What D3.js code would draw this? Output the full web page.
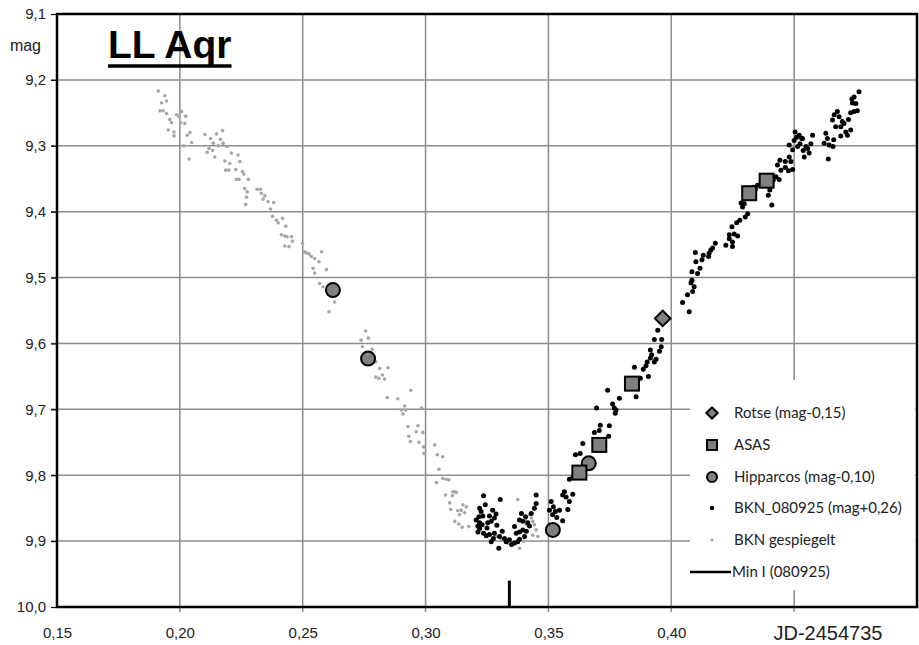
<!DOCTYPE html>
<html><head><meta charset="utf-8">
<script src="https://cdn.jsdelivr.net/npm/d3@7/dist/d3.min.js"></script>
<style>body{margin:0;background:#fff}svg{display:block}</style>
</head><body><svg id="c" width="919" height="645"></svg>
<script>
// ---- data ----
const xTicks = [0.15, 0.20, 0.25, 0.30, 0.35, 0.40];
const xGrid = [0.20, 0.25, 0.30, 0.35, 0.40, 0.45];
const yTicks = [9.1, 9.2, 9.3, 9.4, 9.5, 9.6, 9.7, 9.8, 9.9, 10.0];
const xAxisTitle = "JD-2454735";
const yAxisTitle = "mag";
const chartTitle = "LL Aqr";
const minI = 0.3341;
const legendLabels = ["Rotse (mag-0,15)", "ASAS", "Hipparcos (mag-0,10)", "BKN_080925 (mag+0,26)", "BKN gespiegelt", "Min I (080925)"];

const rotse = [[0.3965, 9.562]];
const asas = [[0.3626, 9.796], [0.3707, 9.754], [0.3840, 9.661], [0.4317, 9.372], [0.4388, 9.353]];
const hipparcos = [[0.2623, 9.519], [0.2766, 9.623], [0.3518, 9.883], [0.3664, 9.782]];

const bkn = [
[0.3236,9.831],[0.3304,9.837],[0.3450,9.830],[0.3220,9.850],[0.3226,9.855],[0.3217,9.863],[0.3233,9.862],[0.3260,9.862],[0.3287,9.859],[0.3280,9.865],[0.3267,9.870],[0.3253,9.872],[0.3220,9.872],[0.3230,9.875],[0.3213,9.877],[0.3220,9.881],[0.3236,9.888],[0.3247,9.892],[0.3260,9.890],[0.3280,9.888],[0.3301,9.893],[0.3321,9.896],[0.3328,9.901],[0.3298,9.911],[0.3267,9.901],[0.3375,9.901],[0.3382,9.897],[0.3369,9.888],[0.3382,9.886],[0.3396,9.883],[0.3396,9.870],[0.3407,9.863],[0.3382,9.868],[0.3416,9.872],[0.3423,9.877],[0.3450,9.843],[0.3443,9.850],[0.3341,9.898],[0.3213,9.886],[0.3250,9.880],[0.3350,9.905],[0.3410,9.885],
[0.3243,9.845],[0.3273,9.853],[0.3290,9.876],[0.3312,9.885],[0.3362,9.878],[0.3390,9.858],[0.3430,9.858],[0.3276,9.896],[0.3362,9.903],[0.3403,9.893],[0.3206,9.868],
[0.3511,9.840],[0.3520,9.848],[0.3504,9.853],[0.3528,9.855],[0.3517,9.860],[0.3534,9.864],[0.3558,9.869],[0.3545,9.853],
[0.3579,9.852],[0.3585,9.840],[0.3599,9.829],[0.3565,9.825],[0.3558,9.830],[0.3572,9.833],
[0.3585,9.806],[0.3599,9.804],[0.3619,9.802],[0.3640,9.794],
[0.3610,9.769],[0.3629,9.767],[0.3640,9.752],[0.3687,9.735],[0.3707,9.732],[0.3711,9.724],[0.3748,9.725],[0.3745,9.741],[0.3721,9.746],
[0.3696,9.698],[0.3761,9.692],[0.3768,9.698],[0.3775,9.701],[0.3772,9.706],[0.3789,9.683],[0.3741,9.671],
[0.3850,9.636],[0.3857,9.681],[0.3874,9.653],[0.3886,9.639],[0.3897,9.634],[0.3907,9.650],[0.3902,9.628],[0.3915,9.622],[0.3920,9.617],[0.3931,9.628],[0.3938,9.624],[0.3915,9.610],[0.3952,9.612],[0.3931,9.594],[0.3961,9.594],[0.3959,9.605],[0.3945,9.580],
[0.4046,9.538],[0.4066,9.526],[0.4073,9.552],[0.4087,9.521],[0.4084,9.504],[0.4093,9.514],[0.4080,9.508],
[0.4100,9.476],[0.4107,9.494],[0.4117,9.486],[0.4125,9.473],[0.4098,9.462],[0.4130,9.466],[0.4154,9.463],[0.4161,9.458],[0.4152,9.468],[0.4179,9.448],[0.4168,9.455],[0.4084,9.491],
[0.4222,9.451],[0.4236,9.441],[0.4249,9.453],[0.4249,9.446],[0.4236,9.435],[0.4256,9.434],[0.4270,9.437],[0.4247,9.423],[0.4266,9.417],[0.4279,9.413],[0.4301,9.408],[0.4311,9.403],[0.4290,9.393],[0.4297,9.388],[0.4284,9.387],[0.4320,9.376],[0.4334,9.363],[0.4311,9.378],[0.4351,9.360],[0.4369,9.357],[0.4342,9.366],
[0.4401,9.367],[0.4395,9.375],[0.4409,9.390],[0.4415,9.352],[0.4439,9.351],[0.4426,9.347],[0.4446,9.337],[0.4432,9.329],[0.4464,9.333],[0.4477,9.338],[0.4494,9.336],[0.4487,9.324],[0.4464,9.324],[0.4480,9.317],[0.4442,9.322],[0.4494,9.306],[0.4480,9.299],[0.4500,9.292],[0.4510,9.287],[0.4504,9.279],[0.4521,9.284],[0.4534,9.289],[0.4524,9.297],[0.4537,9.307],[0.4555,9.304],[0.4561,9.311],[0.4548,9.301],[0.4568,9.297],[0.4575,9.284],[0.4541,9.317],[0.4531,9.289],[0.4514,9.301],
[0.4629,9.281],[0.4635,9.289],[0.4622,9.296],[0.4642,9.299],[0.4658,9.301],[0.4639,9.320],[0.4661,9.291],[0.4669,9.271],[0.4656,9.261],[0.4663,9.253],[0.4676,9.248],[0.4683,9.256],[0.4696,9.263],[0.4690,9.271],[0.4703,9.266],[0.4710,9.279],[0.4717,9.284],[0.4730,9.276],[0.4721,9.260],[0.4730,9.250],[0.4744,9.248],[0.4757,9.247],[0.4737,9.235],[0.4751,9.236],[0.4735,9.229],[0.4744,9.226],[0.4764,9.218],[0.4690,9.285]
];

const bknMirrored = [
[0.1912,9.217],[0.1939,9.224],[0.1946,9.232],[0.1925,9.235],[0.1919,9.247],[0.1932,9.247],[0.1946,9.251],[0.1959,9.260],[0.1966,9.265],[0.1953,9.276],[0.1976,9.279],[0.1976,9.285],[0.1987,9.253],[0.2007,9.248],[0.1997,9.256],[0.2024,9.255],[0.2003,9.265],[0.2020,9.266],[0.2041,9.280],[0.2030,9.284],[0.2016,9.300],[0.2048,9.295],[0.2038,9.320],
[0.2102,9.283],[0.2125,9.289],[0.2149,9.282],[0.2174,9.277],[0.2165,9.290],[0.2136,9.296],[0.2119,9.304],[0.2133,9.307],[0.2111,9.310],[0.2156,9.300],[0.2176,9.296],[0.2192,9.301],[0.2142,9.317],[0.2183,9.323],[0.2210,9.311],[0.2203,9.327],[0.2237,9.314],[0.2244,9.324],
[0.2187,9.337],[0.2200,9.337],[0.2228,9.336],[0.2255,9.339],[0.2260,9.343],[0.2230,9.351],[0.2241,9.351],[0.2279,9.351],[0.2264,9.365],[0.2274,9.370],[0.2271,9.378],[0.2268,9.389],
[0.2314,9.366],[0.2328,9.366],[0.2332,9.372],[0.2346,9.376],[0.2339,9.381],[0.2359,9.385],[0.2382,9.386],[0.2369,9.396],[0.2377,9.407],[0.2393,9.413],[0.2400,9.417],[0.2418,9.410],[0.2431,9.422],
[0.2413,9.435],[0.2427,9.437],[0.2436,9.438],[0.2454,9.438],[0.2458,9.445],[0.2427,9.452],[0.2444,9.453],[0.2499,9.448],[0.2508,9.461],[0.2518,9.463],[0.2526,9.464],[0.2535,9.468],[0.2549,9.471],[0.2577,9.461],[0.2566,9.476],[0.2542,9.486],[0.2549,9.493],[0.2597,9.488],
[0.2569,9.509],[0.2583,9.514],[0.2630,9.537],[0.2607,9.552],
[0.2756,9.581],[0.2767,9.592],[0.2738,9.595],[0.2743,9.605],[0.2783,9.609],[0.2797,9.628],[0.2813,9.638],[0.2847,9.637],[0.2797,9.651],[0.2810,9.653],[0.2833,9.654],[0.2824,9.648],
[0.2940,9.671],[0.2844,9.682],[0.2887,9.684],[0.2915,9.695],[0.2901,9.701],[0.2919,9.701],[0.2908,9.707],[0.2983,9.698],[0.2928,9.726],[0.2969,9.725],[0.2962,9.734],[0.2989,9.735],[0.2932,9.741],[0.2938,9.749],[0.2973,9.750],[0.2992,9.757],[0.2993,9.767],[0.3037,9.754],[0.3048,9.769],[0.3070,9.772],
[0.3054,9.791],[0.3070,9.805],[0.3084,9.806],[0.3095,9.807],[0.3044,9.811],[0.3081,9.830],[0.3111,9.825],[0.3125,9.826],[0.3109,9.831],[0.3098,9.842],[0.3102,9.852],[0.3131,9.854],[0.3119,9.870],[0.3135,9.874],
[0.3118,9.825],[0.3152,9.845],[0.3166,9.848],[0.3145,9.853],[0.3159,9.857],[0.3138,9.860],[0.3149,9.879],[0.3176,9.878],
[0.3375,9.837],[0.3423,9.860],[0.3430,9.865],[0.3436,9.870],[0.3407,9.868],[0.3410,9.875],[0.3443,9.875],[0.3450,9.883],[0.3436,9.891],[0.3457,9.893],
[0.3288,9.893],[0.3308,9.898],[0.3335,9.903],[0.3382,9.911],[0.3272,9.898],[0.3400,9.900]
];

// ---- layout ----
const L = 57, T = 14, R = 917, B = 607;
const svg = d3.select("#c");
const x = d3.scaleLinear().domain([0.15, 0.50]).range([L, R]);
const y = d3.scaleLinear().domain([9.1, 10.0]).range([T, B]);
const fmt = v => d3.format(".2f")(v).replace(".", ",");
const fmtY = v => d3.format(".1f")(v).replace(".", ",");
const gridCol = "#8c8c8c";
const lblFont = "'Liberation Sans', Arial, sans-serif";

// gridlines
svg.append("g").selectAll("line").data(xGrid).join("line")
  .attr("x1", d => x(d)).attr("x2", d => x(d)).attr("y1", T).attr("y2", B + 5)
  .attr("stroke", gridCol).attr("stroke-width", 1.5);
svg.append("g").selectAll("line").data(yTicks.filter(d => d > 9.1 && d < 10)).join("line")
  .attr("x1", L - 6).attr("x2", R).attr("y1", d => y(d)).attr("y2", d => y(d))
  .attr("stroke", gridCol).attr("stroke-width", 1.5);

// y axis (left)
const yAxis = d3.axisLeft(y).tickValues(yTicks).tickFormat(fmtY).tickSize(6).tickPadding(5);
const gy = svg.append("g").attr("transform", `translate(${L},0)`).call(yAxis);
gy.select(".domain").remove();
gy.selectAll(".tick line").attr("stroke", "#000").attr("stroke-width", 1.2);
gy.selectAll("text").attr("font-family", lblFont).attr("font-size", 15).attr("fill", "#222");

// x axis (bottom)
const xAxis = d3.axisBottom(x).tickValues(xTicks).tickFormat(fmt).tickSize(0).tickPadding(20);
const gx = svg.append("g").attr("transform", `translate(0,${B})`).call(xAxis);
gx.select(".domain").remove();
gx.selectAll("text").attr("font-family", lblFont).attr("font-size", 15).attr("fill", "#222");

// frame
svg.append("rect").attr("x", L).attr("y", T).attr("width", R - L).attr("height", B - T)
  .attr("fill", "none").attr("stroke", "#000").attr("stroke-width", 2.5);

// axis titles
svg.append("text").attr("x", 41).attr("y", 51).attr("text-anchor", "end")
  .attr("font-family", lblFont).attr("font-size", 16).attr("fill", "#222").text(yAxisTitle);
svg.append("text").attr("x", 828).attr("y", 640).attr("text-anchor", "middle")
  .attr("font-family", lblFont).attr("font-size", 20).attr("fill", "#222").text(xAxisTitle);

// title
const title = svg.append("text").attr("x", 108).attr("y", 58)
  .attr("font-family", lblFont).attr("font-weight", "bold").attr("font-size", 39)
  .attr("fill", "#000").text(chartTitle);
const tb = title.node().getBBox();
svg.append("line").attr("x1", tb.x).attr("x2", tb.x + tb.width).attr("y1", 66).attr("y2", 66)
  .attr("stroke", "#000").attr("stroke-width", 3.5);

// legend background
svg.append("rect").attr("x", 690).attr("y", 380).attr("width", 225).attr("height", 210).attr("fill", "#fff");

// mirrored points
svg.append("g").selectAll("circle").data(bknMirrored).join("circle")
  .attr("cx", d => x(d[0])).attr("cy", d => y(d[1])).attr("r", 1.8).attr("fill", "#a6a6a6");
// BKN points
svg.append("g").selectAll("circle").data(bkn).join("circle")
  .attr("cx", d => x(d[0])).attr("cy", d => y(d[1])).attr("r", 2.5).attr("fill", "#000");

const markFill = "#808080";
function square(g, cx, cy, s) {
  g.append("rect").attr("x", cx - s / 2).attr("y", cy - s / 2).attr("width", s).attr("height", s)
   .attr("fill", markFill).attr("stroke", "#000").attr("stroke-width", 2);
}
function circ(g, cx, cy, r) {
  g.append("circle").attr("cx", cx).attr("cy", cy).attr("r", r)
   .attr("fill", markFill).attr("stroke", "#000").attr("stroke-width", 2);
}
const gm = svg.append("g");
hipparcos.forEach(d => circ(gm, x(d[0]), y(d[1]), 7));
asas.forEach(d => square(gm, x(d[0]), y(d[1]), 14));
rotse.forEach(d => {
  gm.append("rect").attr("x", -5.5).attr("y", -5.5).attr("width", 11).attr("height", 11)
    .attr("transform", `translate(${x(d[0])},${y(d[1])}) rotate(45)`)
    .attr("fill", markFill).attr("stroke", "#000").attr("stroke-width", 2);
});

// Min I marker
svg.append("line").attr("x1", x(minI)).attr("x2", x(minI)).attr("y1", y(9.96)).attr("y2", y(10.0))
  .attr("stroke", "#000").attr("stroke-width", 3);

// legend
const lg = svg.append("g");
const lx = 712, tx = 734, legY = [413, 445, 477, 508, 540, 572];
const legFont = "Lato, 'Open Sans', sans-serif";
lg.append("rect").attr("x", -4).attr("y", -4).attr("width", 8).attr("height", 8)
  .attr("transform", `translate(${lx},${legY[0]}) rotate(45)`).attr("fill", markFill).attr("stroke", "#000").attr("stroke-width", 2);
square(lg, lx, legY[1], 10);
circ(lg, lx, legY[2], 5);
lg.append("circle").attr("cx", lx).attr("cy", legY[3]).attr("r", 2.2).attr("fill", "#000");
lg.append("circle").attr("cx", lx).attr("cy", legY[4]).attr("r", 1.6).attr("fill", "#a6a6a6");
lg.append("line").attr("x1", 690).attr("x2", 731).attr("y1", legY[5]).attr("y2", legY[5]).attr("stroke", "#000").attr("stroke-width", 2.5);
lg.selectAll("text").data(legendLabels).join("text")
  .attr("x", (d, i) => i === 5 ? 732 : tx).attr("y", (d, i) => legY[i] + 5)
  .attr("font-family", legFont).attr("font-size", 15).attr("fill", "#222").text(d => d);
</script>
</body></html>
